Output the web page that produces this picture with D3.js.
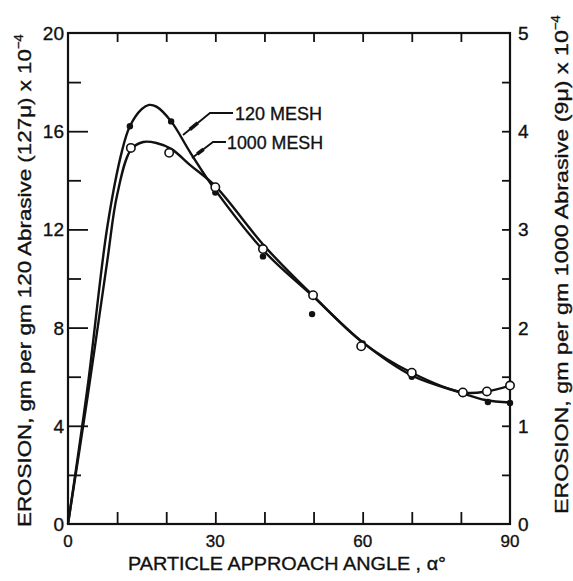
<!DOCTYPE html>
<html>
<head>
<meta charset="utf-8">
<script src="https://cdn.jsdelivr.net/npm/d3@7"></script>
<style>
  body { margin: 0; background: #fff; }
  text { font-family: 'Liberation Sans', Arial, sans-serif; fill: #111; stroke: #111; stroke-width: 0.35; }
</style>
</head>
<body>
<svg id="chart" width="573" height="581"></svg>
<script>
'use strict';

// fitted curves
var fitAngle120 = [0, 4, 8, 11, 12.6, 15, 16.5, 18, 21, 25, 30, 40, 50, 60, 70, 80, 85, 90];
var fitErosion120 = [0, 5.6, 12.1, 15.2, 16.2, 16.9, 17.07, 17.0, 16.4, 15.1, 13.6, 11.1, 9.25, 7.4, 6.05, 5.35, 5.05, 4.95];

// 1000 mesh is read against the right axis (x10^-4, 0..5)
var fitAngle1000 = [0, 4, 8, 10, 12.8, 15.3, 18, 21, 25, 30, 40, 50, 60, 70, 80.4, 85.3, 90];
var fitErosion1000 = [0, 1.3, 2.68, 3.35, 3.81, 3.89, 3.88, 3.82, 3.65, 3.44, 2.83, 2.32, 1.85, 1.54, 1.34, 1.35, 1.41];

// measured points
var angle120 = [12.6, 21, 30, 39.7, 49.7, 60, 70, 80.4, 85.5, 90];
var erosion120 = [16.2, 16.4, 13.5, 10.9, 8.55, 7.35, 6.0, 5.3, 4.97, 4.93];
var angle1000 = [12.8, 20.6, 30, 39.7, 49.9, 59.7, 70, 80.4, 85.3, 90];
var erosion1000 = [3.83, 3.78, 3.43, 2.8, 2.33, 1.81, 1.54, 1.34, 1.35, 1.41];

var xTickLabels = [0, 30, 60, 90];
var leftTickLabels = [0, 4, 8, 12, 16, 20];
var rightTickLabels = [0, 1, 2, 3, 4, 5];

var svg = d3.select('#chart');

var plotL = 68, plotR = 510, plotT = 33, plotB = 524;

var x = d3.scaleLinear().domain([0, 90]).range([plotL, plotR]);
var y = d3.scaleLinear().domain([0, 20]).range([plotB, plotT]);
var y2 = d3.scaleLinear().domain([0, 5]).range([plotB, plotT]);

// frame
svg.append('rect')
    .attr('x', plotL).attr('y', plotT)
    .attr('width', plotR - plotL).attr('height', plotB - plotT)
    .attr('fill', 'none')
    .attr('stroke', '#111')
    .attr('stroke-width', 2.2);

function ticks(axis, tx, ty) {
    svg.append('g')
        .attr('transform', 'translate(' + tx + ',' + ty + ')')
        .call(axis)
        .call(function(g) { g.select('.domain').remove(); })
        .selectAll('line').attr('stroke', '#111').attr('stroke-width', 1.8);
}

// all ticks point inward
ticks(d3.axisTop(x).tickValues(d3.range(10, 90, 10)).tickSize(12).tickFormat(''), 0, plotB);
ticks(d3.axisBottom(x).tickValues(d3.range(10, 90, 10)).tickSize(9).tickFormat(''), 0, plotT);
ticks(d3.axisRight(y).tickValues(d3.range(4, 20, 4)).tickSize(20).tickFormat(''), plotL, 0);
ticks(d3.axisRight(y).tickValues(d3.range(2, 20, 4)).tickSize(13).tickFormat(''), plotL, 0);
ticks(d3.axisLeft(y2).tickValues(d3.range(0.5, 5, 0.5)).tickSize(8).tickFormat(''), plotR, 0);

// tick labels
svg.selectAll('.xlab').data(xTickLabels).enter().append('text')
    .attr('x', function(d) { return x(d); })
    .attr('y', 547)
    .attr('text-anchor', 'middle')
    .attr('font-size', 17)
    .text(function(d) { return d; });

svg.selectAll('.ylab').data(leftTickLabels).enter().append('text')
    .attr('x', 64)
    .attr('y', function(d) { return y(d) + 7; })
    .attr('text-anchor', 'end')
    .attr('font-size', 19)
    .text(function(d) { return d; });

svg.selectAll('.y2lab').data(rightTickLabels).enter().append('text')
    .attr('x', 518)
    .attr('y', function(d) { return y2(d) + 7; })
    .attr('font-size', 19)
    .text(function(d) { return d; });

// fitted curves
var line120 = d3.line()
    .x(function(d) { return x(d[0]); })
    .y(function(d) { return y(d[1]); })
    .curve(d3.curveCatmullRom.alpha(0.5));
var line1000 = d3.line()
    .x(function(d) { return x(d[0]); })
    .y(function(d) { return y2(d[1]); })
    .curve(d3.curveCatmullRom.alpha(0.5));

svg.append('path')
    .datum(d3.zip(fitAngle120, fitErosion120))
    .attr('d', line120)
    .attr('fill', 'none')
    .attr('stroke', '#111')
    .attr('stroke-width', 2.4);

svg.append('path')
    .datum(d3.zip(fitAngle1000, fitErosion1000))
    .attr('d', line1000)
    .attr('fill', 'none')
    .attr('stroke', '#111')
    .attr('stroke-width', 2.4);

// points
svg.selectAll('.p120').data(d3.zip(angle120, erosion120)).enter().append('circle')
    .attr('cx', function(d) { return x(d[0]); })
    .attr('cy', function(d) { return y(d[1]); })
    .attr('r', 3.2)
    .attr('fill', '#111');

svg.selectAll('.p1000').data(d3.zip(angle1000, erosion1000)).enter().append('circle')
    .attr('cx', function(d) { return x(d[0]); })
    .attr('cy', function(d) { return y2(d[1]); })
    .attr('r', 4.2)
    .attr('fill', '#fff')
    .attr('stroke', '#111')
    .attr('stroke-width', 1.6);

// curve labels with leaders
function leader(pts, label, tx, ty, len) {
    svg.append('path')
        .attr('d', d3.line()(pts))
        .attr('fill', 'none')
        .attr('stroke', '#111')
        .attr('stroke-width', 1.8);
    var a = pts[pts.length - 1], b = pts[pts.length - 2];
    svg.append('line')
        .attr('x1', a[0] + (b[0] - a[0]) * 0.25).attr('y1', a[1] + (b[1] - a[1]) * 0.25)
        .attr('x2', a[0] + (b[0] - a[0]) * 0.55).attr('y2', a[1] + (b[1] - a[1]) * 0.55)
        .attr('stroke', '#111')
        .attr('stroke-width', 3.6);
    svg.append('text')
        .attr('x', tx).attr('y', ty)
        .attr('font-size', 19)
        .attr('textLength', len)
        .attr('lengthAdjust', 'spacingAndGlyphs')
        .text(label);
}
leader([[233, 113], [210, 113], [183, 135]], '120 MESH', 235, 120, 87);
leader([[226, 142], [213, 142], [192, 158]], '1000 MESH', 227, 149, 96);

// axis titles
svg.append('text')
    .attr('x', 128).attr('y', 570)
    .attr('font-size', 18)
    .attr('textLength', 318)
    .attr('lengthAdjust', 'spacingAndGlyphs')
    .text('PARTICLE APPROACH ANGLE ,  \u03b1\u00b0');

function yTitle(xPos, yStart, len, body) {
    var t = svg.append('text')
        .attr('transform', 'translate(' + xPos + ',' + yStart + ') rotate(-90)')
        .attr('font-size', 19);
    t.append('tspan')
        .attr('textLength', len)
        .attr('lengthAdjust', 'spacingAndGlyphs')
        .text(body);
    t.append('tspan').attr('dy', -8).attr('font-size', 13).text('\u22124');
}
yTitle(31, 527, 478, 'EROSION, gm per gm 120 Abrasive (127\u03bc) x 10');
yTitle(568, 514, 484, 'EROSION, gm per gm 1000 Abrasive (9\u03bc) x 10');
</script>
</body>
</html>
